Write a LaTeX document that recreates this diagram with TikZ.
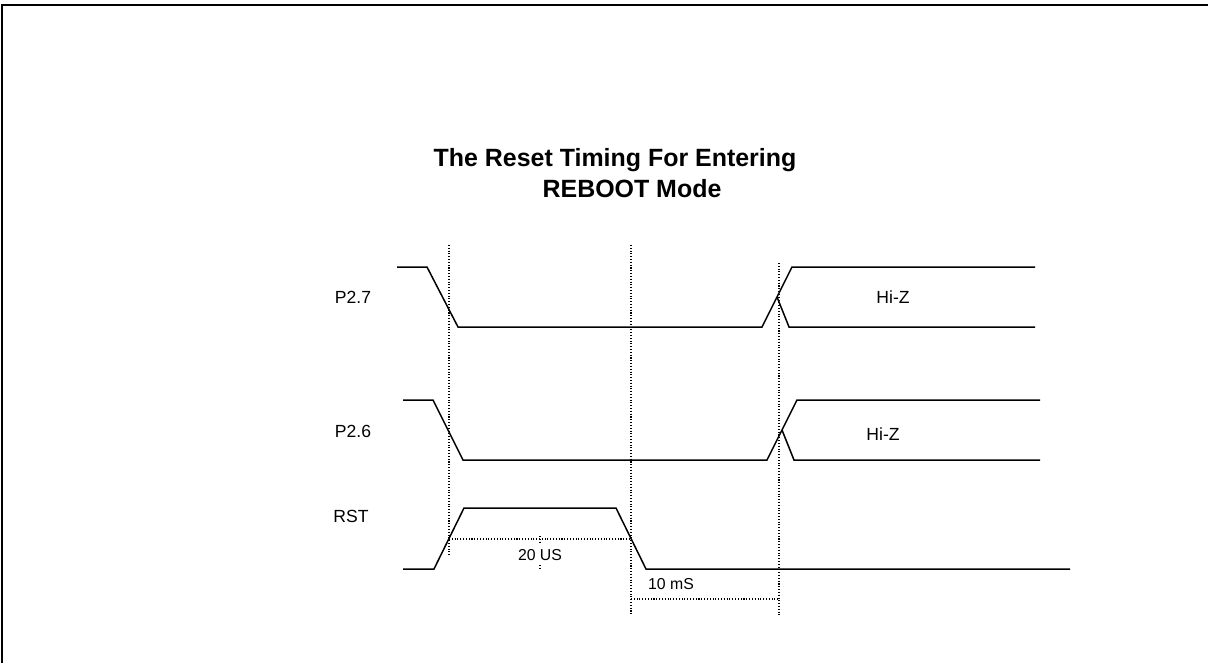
\documentclass[tikz,border=0pt]{standalone}
\usepackage{fontspec}
\setmainfont{Liberation Sans}
\usetikzlibrary{positioning}

\tikzset{
  wave/.style={line width=0.85pt, line join=miter},
  marker/.style={densely dotted, line width=0.6pt},
  siglabel/.style={font=\fontsize{10}{12}\selectfont, inner sep=0pt},
  dimlabel/.style={font=\fontsize{9}{11}\selectfont, inner sep=0pt},
}

\begin{document}
\begin{tikzpicture}[x=0.02cm, y=-0.02cm]
  \useasboundingbox (0,0) rectangle (1208,663);
  % frame
  \draw[line width=1.2pt] (2,663) -- (2,5) -- (1208,5);

  % title
  \node (title1) [font=\fontsize{14.2}{16}\selectfont\bfseries] at (615,160)
        {The Reset Timing For Entering};
  \node (title2) [font=\fontsize{14.2}{16}\selectfont\bfseries] at (632,189)
        {REBOOT Mode};

  % signal names
  \node (p27) [siglabel] at (353,297) {P2.7};
  \node (p26) [siglabel] at (353,431) {P2.6};
  \node (rst) [siglabel] at (351,516) {RST};
  \node (hiz1) [siglabel] at (893,297) {Hi-Z};
  \node (hiz2) [siglabel] at (883,434) {Hi-Z};

  % P2.7
  \draw[wave] (397,267) -- (427,267) -- (458,327) -- (762,327) -- (792,267) -- (1035,267);
  \draw[wave] (777,297) -- (789,327) -- (1035,327);
  % P2.6
  \draw[wave] (403,400) -- (433,400) -- (463,460) -- (767,460) -- (797,400) -- (1040,400);
  \draw[wave] (782,430) -- (794,460) -- (1040,460);
  % RST
  \draw[wave] (403,569) -- (434,569) -- (464,508) -- (616,508) -- (646,569) -- (1070,569);

  % timing markers
  \coordinate (m1top) at (449,245);
  \coordinate (m1bot) at (449,555);
  \coordinate (m2top) at (631,245);
  \coordinate (m2bot) at (631,615);
  \coordinate (m3top) at (779,263);
  \coordinate (m3bot) at (779,615);
  \draw[marker] (m1top) -- (m1bot);
  \draw[marker] (m2top) -- (m2bot);
  \draw[marker] (m3top) -- (m3bot);

  \coordinate (d1l) at (449,539);
  \coordinate (d1r) at (631,539);
  \coordinate (d2l) at (631,599);
  \coordinate (d2r) at (779,599);
  \draw[marker] (d1l) -- (d1r);
  \draw[marker] (d2l) -- (d2r);
  \draw[marker] (540,536) -- (540,542);
  \draw[marker] (540,565) -- (540,568);

  \node (t20) [dimlabel] at (540,555) {20 US};
  \node (t10) [dimlabel] at (671,584) {10 mS};
\end{tikzpicture}
\end{document}
